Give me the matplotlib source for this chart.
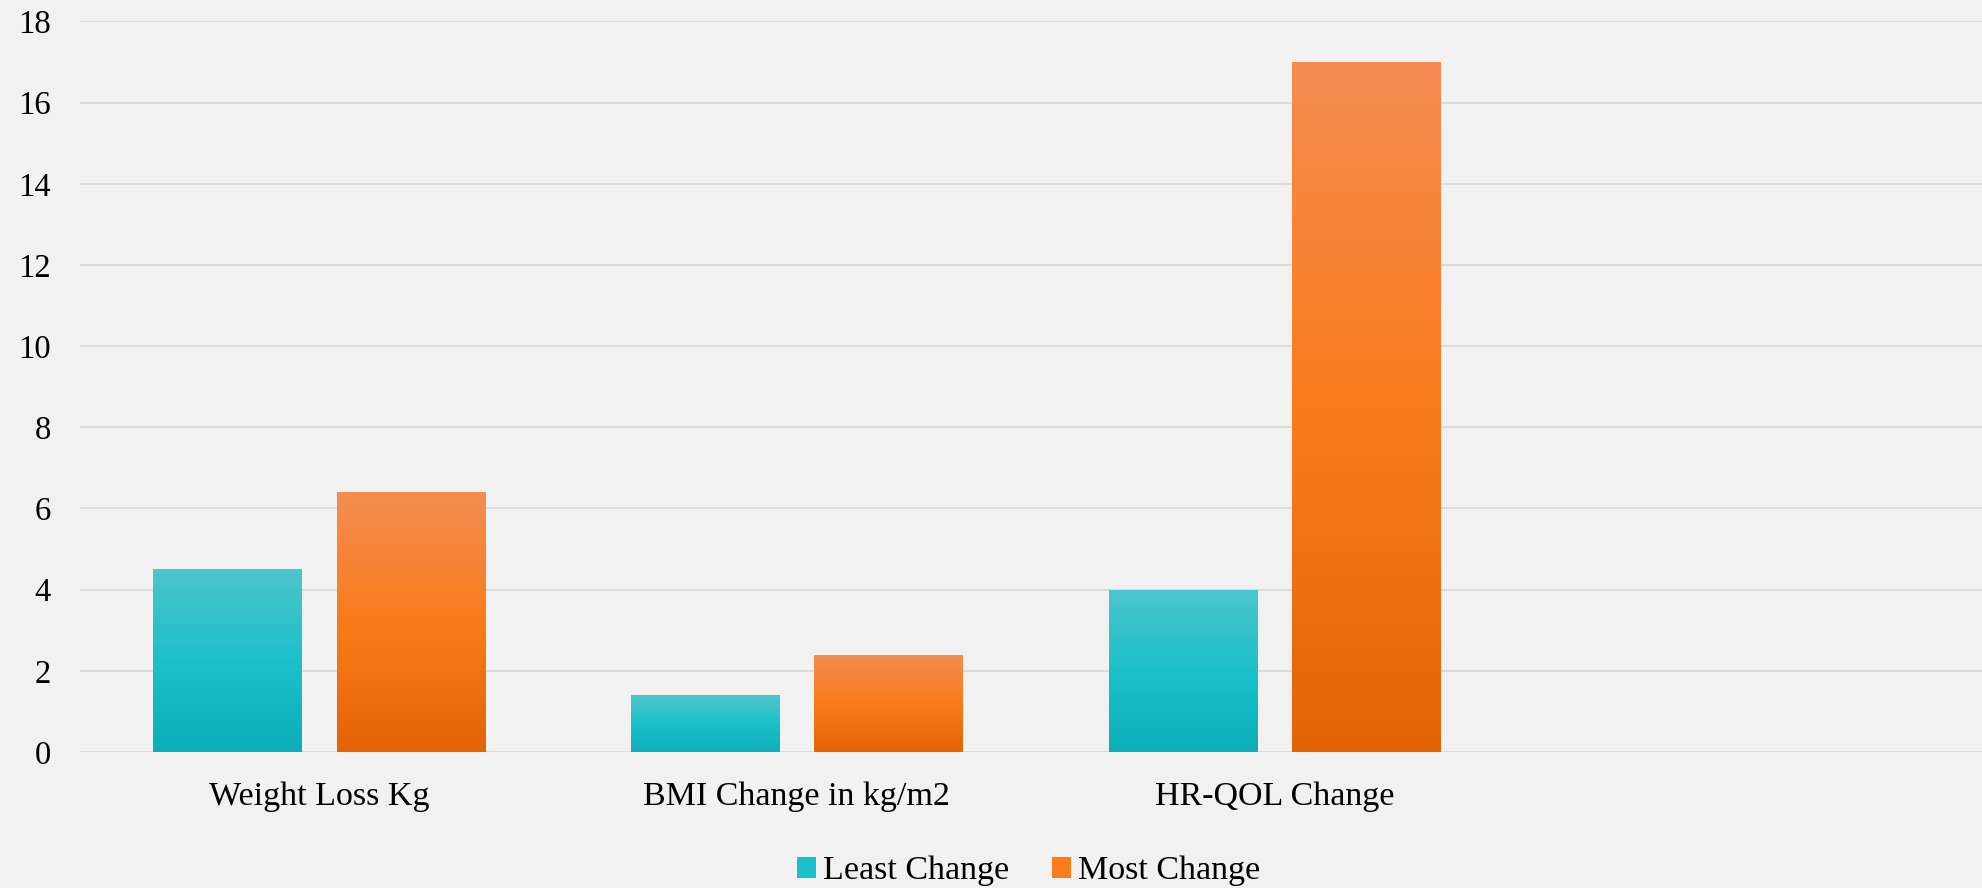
import numpy as np
import matplotlib
matplotlib.use("Agg")
import matplotlib.pyplot as plt
from matplotlib.colors import LinearSegmentedColormap
from matplotlib.patches import Patch

categories = ["Weight Loss Kg", "BMI Change in kg/m2", "HR-QOL Change", ""]
least_change = [4.5, 1.4, 4.0, None]
most_change = [6.4, 2.4, 17.0, None]
series_names = ["Least Change", "Most Change"]
y_ticks = [0, 2, 4, 6, 8, 10, 12, 14, 16, 18]

BG = "#F1F1F1"
GRID = "#D9D9D9"
teal_stops = ["#0BAEB9", "#1CC0CA", "#4DC5CC"]   # bottom, mid, top
orange_stops = ["#E36407", "#F97C1C", "#F48C52"]
teal_cmap = LinearSegmentedColormap.from_list("teal", teal_stops)
orange_cmap = LinearSegmentedColormap.from_list("orange", orange_stops)

FONT = "Liberation Serif"
FS = 23.5
FS_CAT = 24.5

fig = plt.figure(figsize=(19.82, 8.88), dpi=100, facecolor=BG)
ax = fig.add_axes([0.0404, 0.1532, 0.9643, 0.8226])
ax.set_facecolor(BG)

x = np.arange(len(categories))
width = 0.31
offset = 0.192

def vals(v):
    return [np.nan if a is None else a for a in v]

bars_l = ax.bar(x - offset, vals(least_change), width, color="none", edgecolor="none")
bars_m = ax.bar(x + offset, vals(most_change), width, color="none", edgecolor="none")

grad = np.linspace(0, 1, 256).reshape(-1, 1)
for bars, cmap in ((bars_l, teal_cmap), (bars_m, orange_cmap)):
    for b in bars:
        h = b.get_height()
        if not np.isfinite(h) or h == 0:
            continue
        x0 = b.get_x()
        w = b.get_width()
        im = ax.imshow(grad, cmap=cmap, origin="lower", aspect="auto",
                       extent=(x0, x0 + w, 0, h), zorder=2, interpolation="bicubic")
        im.set_clip_path(b)

ax.set_xlim(-0.5, len(categories) - 0.5)
ax.set_ylim(0, 18)
ax.set_yticks(y_ticks)
ax.set_yticklabels([str(t) for t in y_ticks], fontfamily=FONT, fontsize=FS)
ax.set_xticks(x)
ax.set_xticklabels(categories, fontfamily=FONT, fontsize=FS_CAT)
ax.tick_params(axis="y", length=0, pad=21, colors="black")
ax.tick_params(axis="x", length=0, pad=21, colors="black")
ax.yaxis.grid(True, color=GRID, linewidth=1.3, zorder=0)
ax.set_axisbelow(True)
for s in ax.spines.values():
    s.set_visible(False)

handles = [Patch(facecolor=teal_stops[1], edgecolor="none"),
           Patch(facecolor=orange_stops[1], edgecolor="none")]
fig.legend(handles, series_names, loc="center", bbox_to_anchor=(0.519, 0.019),
           ncol=2, frameon=False, prop={"family": FONT, "size": FS_CAT},
           handlelength=0.56, handleheight=0.56, handletextpad=0.22,
           columnspacing=1.25, borderaxespad=0, borderpad=0)

fig.savefig("out.png", dpi=100, facecolor=BG)
